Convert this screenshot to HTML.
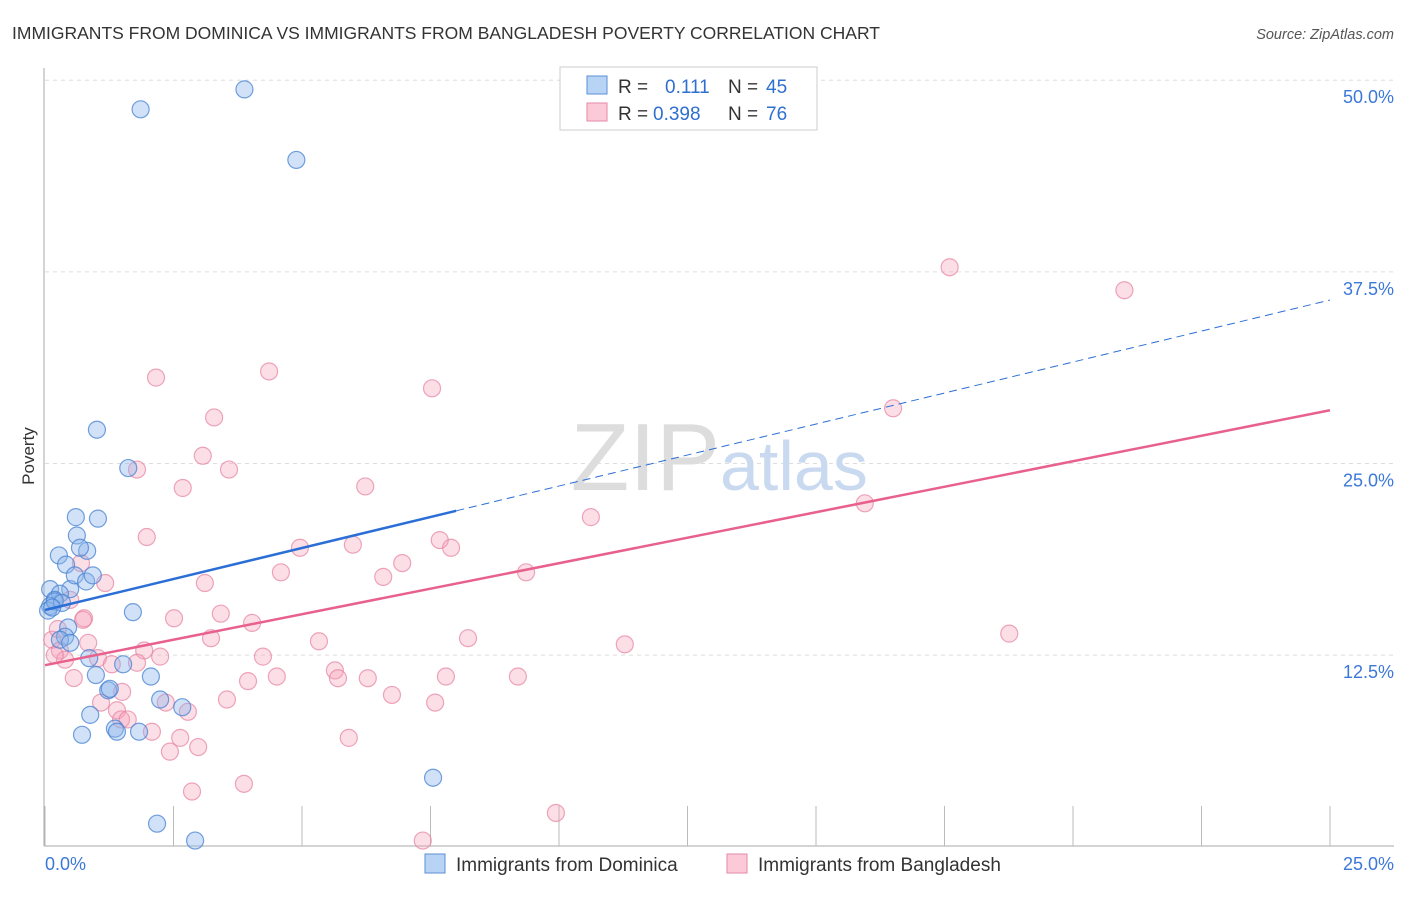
<!DOCTYPE html>
<html><head><meta charset="utf-8"><style>
body{margin:0;background:#fff;font-family:"Liberation Sans",sans-serif;}
svg text{font-family:"Liberation Sans",sans-serif;}
</style></head><body>
<svg width="1406" height="892">
<text x="12" y="39" font-size="17.5" fill="#333">IMMIGRANTS FROM DOMINICA VS IMMIGRANTS FROM BANGLADESH POVERTY CORRELATION CHART</text>
<text x="1394" y="39" font-size="14.5" fill="#555" font-style="italic" text-anchor="end">Source: ZipAtlas.com</text>
<g id="grid"></g>
<text x="720" y="490" font-size="96" fill="#ddd" text-anchor="end" font-family="Liberation Serif">ZIP</text>
<text x="720" y="490" font-size="70" fill="#c9daf0">atlas</text>
<text x="34" y="456" font-size="17" fill="#333" transform="rotate(-90 34 456)" text-anchor="middle">Poverty</text>
<g id="pts"></g>
<g id="lines"></g>
<g>
<rect x="560" y="67" width="257" height="63" fill="#fff" stroke="#ccc"/>
<rect x="587" y="76" width="20" height="18" fill="#b8d4f5" stroke="#5b8fd6"/>
<rect x="587" y="103" width="20" height="18" fill="#fbc9d8" stroke="#e58aa6"/>
<text x="618" y="93" font-size="19" fill="#333">R = </text><text x="665" y="93" font-size="19" fill="#2f6fd0">0.111</text>
<text x="728" y="93" font-size="19" fill="#333">N = </text><text x="766" y="93" font-size="19" fill="#2f6fd0">45</text>
<text x="618" y="120" font-size="19" fill="#333">R = </text><text x="653" y="120" font-size="19" fill="#2f6fd0">0.398</text>
<text x="728" y="120" font-size="19" fill="#333">N = </text><text x="766" y="120" font-size="19" fill="#2f6fd0">76</text>
</g>
<text x="45" y="870" font-size="18" fill="#3b78d8">0.0%</text>
<text x="1394" y="870" font-size="18" fill="#3b78d8" text-anchor="end">25.0%</text>
<g>
<rect x="425" y="854" width="20" height="19" fill="#b8d4f5" stroke="#5b8fd6"/>
<text x="456" y="871" font-size="19" fill="#333">Immigrants from Dominica</text>
<rect x="727" y="854" width="20" height="19" fill="#fbc9d8" stroke="#e58aa6"/>
<text x="758" y="871" font-size="19" fill="#333">Immigrants from Bangladesh</text>
</g>
</svg>
<script>
const yTicks=[12.5,25,37.5,50];
const yTickLabels=["12.5%","25.0%","37.5%","50.0%"];
const xTicks=[0,2.5,5,7.5,10,12.5,15,17.5,20,22.5,25];
const dominicaX=[1.86,3.88,4.89,1.01,1.62,0.60,1.03,0.62,0.27,0.82,0.68,0.41,0.10,0.49,0.58,0.80,0.93,0.29,0.19,0.10,0.06,1.71,0.45,0.39,0.29,0.49,0.86,1.52,0.99,2.06,1.23,1.26,2.24,2.67,0.88,1.36,1.40,1.83,0.72,7.55,2.18,2.92,0.19,0.33,0.14];
const dominicaY=[48.1,49.4,44.8,27.2,24.7,21.5,21.4,20.3,19.0,19.3,19.5,18.4,16.8,16.8,17.7,17.3,17.7,16.5,16.1,15.7,15.4,15.3,14.3,13.7,13.5,13.3,12.3,11.9,11.2,11.1,10.2,10.3,9.6,9.1,8.6,7.7,7.5,7.5,7.3,4.5,1.5,0.4,16.0,15.9,15.6];
const bangX=[17.6,21.0,4.36,2.16,7.53,16.5,3.29,3.07,3.58,1.79,2.68,6.23,15.95,10.62,1.98,4.96,5.99,7.68,7.90,0.70,1.17,6.95,6.58,9.36,4.59,3.11,3.42,2.51,0.76,4.03,3.23,5.33,8.23,18.76,11.28,0.14,0.84,0.29,1.93,2.24,1.03,0.39,1.30,1.79,4.24,5.64,0.19,0.56,4.51,3.95,5.70,6.28,7.80,9.20,1.50,6.75,3.54,2.35,1.09,2.78,7.59,1.40,1.48,1.61,2.08,2.63,5.91,2.98,2.43,3.87,2.86,9.94,7.35,0.49,0.74,0.25];
const bangY=[37.8,36.3,31.0,30.6,29.9,28.6,28.0,25.5,24.6,24.6,23.4,23.5,22.4,21.5,20.2,19.5,19.7,20.0,19.5,18.5,17.2,18.5,17.6,17.9,17.9,17.2,15.2,14.9,14.9,14.6,13.6,13.4,13.6,13.9,13.2,13.5,13.3,12.8,12.8,12.4,12.3,12.2,11.9,12.0,12.4,11.5,12.5,11.0,11.1,10.8,10.99,10.99,11.1,11.1,10.1,9.9,9.6,9.4,9.4,8.8,9.4,8.9,8.3,8.3,7.5,7.1,7.1,6.5,6.2,4.1,3.6,2.2,0.4,16.1,14.8,14.2];
const trendBlue=[15.44,35.66], trendPink=[11.84,28.47], blueSolidEnd=8.0;
const X=v=>45+v*51.4, Y=v=>846.7-v*15.33;
const NS="http://www.w3.org/2000/svg";
function mk(t,a,p){const e=document.createElementNS(NS,t);for(const k in a)e.setAttribute(k,a[k]);p.appendChild(e);return e;}
const grid=document.getElementById('grid');
yTicks.forEach((t,i)=>{
 const l=mk('line',{x1:45,x2:1394,y1:Y(t),y2:Y(t),stroke:'#ddd','stroke-dasharray':'4,4'},grid);
 
 
 const tx=mk('text',{x:1394,y:Y(t)+23,'font-size':18,fill:'#3b78d8','text-anchor':'end'},grid);
 tx.textContent=yTickLabels[i];
 
 
});
const ax=mk('line',{x1:44,x2:44,y1:68,y2:846,stroke:'#aaa'},grid);


const bx=mk('line',{x1:44,x2:1394,y1:846,y2:846,stroke:'#aaa'},grid);


xTicks.forEach(t=>{
 const l=mk('line',{x1:X(t),x2:X(t),y1:806,y2:846,stroke:'#bbb'},grid);
 
 
});
const pts=document.getElementById('pts');
bangX.forEach((v,i)=>{
 const c=mk('circle',{cx:X(v),cy:Y(bangY[i]),r:8.5,fill:'rgba(245,160,185,0.35)',stroke:'rgba(230,130,160,0.7)','stroke-width':1.2},pts);
 
 
});
dominicaX.forEach((v,i)=>{
 const c=mk('circle',{cx:X(v),cy:Y(dominicaY[i]),r:8.5,fill:'rgba(140,180,235,0.4)',stroke:'rgba(70,130,210,0.75)','stroke-width':1.2},pts);
 
 
});
const lines=document.getElementById('lines');
const bf=v=>trendBlue[0]+(trendBlue[1]-trendBlue[0])*v/25;
let l1=mk('line',{x1:X(0),y1:Y(bf(0)),x2:X(blueSolidEnd),y2:Y(bf(blueSolidEnd)),stroke:'#2b6fd6','stroke-width':2.5},lines);


let l2=mk('line',{x1:X(blueSolidEnd),y1:Y(bf(blueSolidEnd)),x2:X(25),y2:Y(bf(25)),stroke:'#2b6fd6','stroke-width':1,'stroke-dasharray':'8,5'},lines);


let l3=mk('line',{x1:X(0),y1:Y(trendPink[0]),x2:X(25),y2:Y(trendPink[1]),stroke:'#e8608d','stroke-width':2.5},lines);


</script>
</body></html>
